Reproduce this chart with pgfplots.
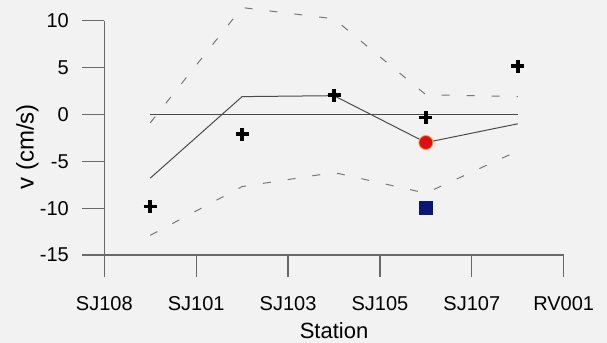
\documentclass[border=0pt]{standalone}
\usepackage{fontspec}
\setmainfont{Liberation Sans}
\usepackage{pgfplots}
\pgfplotsset{compat=1.18}
\definecolor{bg}{RGB}{242,242,242}
\definecolor{axisgray}{RGB}{105,105,105}
\definecolor{linegray}{RGB}{75,75,75}
\definecolor{dashgray}{RGB}{120,120,120}
\definecolor{dotred}{RGB}{228,12,18}
\definecolor{halo}{RGB}{240,160,40}
\definecolor{navy}{RGB}{12,22,120}
\begin{document}
\begin{tikzpicture}
\path[use as bounding box, fill=bg] (-104.3bp,-88bp) rectangle (502.7bp,255bp);
\begin{axis}[
  at={(0,0)}, anchor=south west,
  scale only axis, width=459.4bp, height=234.3bp,
  xmin=0, xmax=5, ymin=-15, ymax=10,
  axis lines*=left,
  axis line style={draw=axisgray, line width=1.2bp},
  xtick={0,1,2,3,4,5},
  xticklabels={SJ108,SJ101,SJ103,SJ105,SJ107,RV001},
  ytick={-15,-10,-5,0,5,10},
  yticklabels={-15,-10,-5,0,5,10},
  tick align=outside, major tick length=22bp,
  tick style={draw=axisgray, line width=1.2bp},
  tick label style={font=\fontsize{20bp}{24bp}\selectfont},
  xticklabel style={yshift=-16bp},
  yticklabel style={xshift=-10bp},
  xlabel={Station}, ylabel={v (cm/s)},
  xlabel style={font=\fontsize{22bp}{26bp}\selectfont, at={(axis description cs:0.5,0)}, anchor=north, yshift=-67.5bp, inner sep=0pt},
  ylabel style={font=\fontsize{24bp}{28bp}\selectfont, at={(axis description cs:0,0.5)}, anchor=center, yshift=76.8bp, xshift=-9bp, inner sep=0pt},
  clip=false,
]
\addplot[linegray, line width=1bp] coordinates {(0.5,0) (4.5,0)};
\addplot[dashgray, line width=1bp, dash pattern=on 8bp off 17bp] coordinates {(0.5,-0.9) (1.5,11.4) (2.5,10.2) (3.5,2.1) (4.5,1.9)};
\addplot[dashgray, line width=1bp, dash pattern=on 8bp off 17bp] coordinates {(0.5,-12.9) (1.5,-7.7) (2.5,-6.2) (3.5,-8.4) (4.5,-3.9)};
\addplot[linegray, line width=1bp] coordinates {(0.5,-6.8) (1.5,1.9) (2.5,2.0) (3.5,-3.0) (4.5,-1.0)};
\addplot[only marks, mark=+, mark size=6.5bp, mark options={draw=black, line width=3.5bp}] coordinates {(0.5,-9.8) (1.5,-2.1) (2.5,2.05) (3.5,-0.35) (4.5,5.15)};
\addplot[only marks, mark=*, mark size=7bp, mark options={fill=dotred, draw=halo, line width=0.8bp}] coordinates {(3.5,-3.0)};
\addplot[only marks, mark=square*, mark size=6.5bp, mark options={fill=navy, draw=navy}] coordinates {(3.5,-10)};
\end{axis}
\end{tikzpicture}
\end{document}
